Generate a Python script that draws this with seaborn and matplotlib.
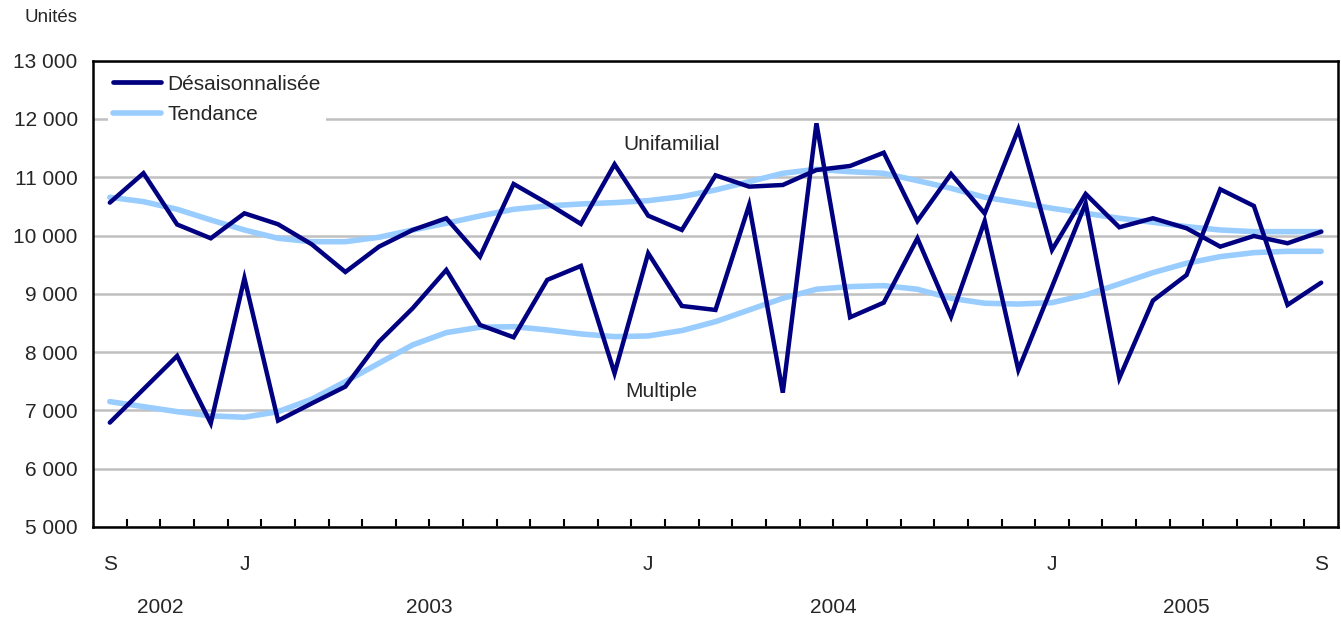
import numpy as np
import pandas as pd
import seaborn as sns
import matplotlib.pyplot as plt
import matplotlib.transforms as mtransforms
from matplotlib.lines import Line2D

# mois de septembre 2002 à septembre 2005
mois = list(range(37))

unifamilial = [10565, 11070, 10190, 9953, 10382, 10194, 9850, 9375, 9810, 10096,
               10297, 9638, 10885, 10554, 10199, 11223, 10341, 10096, 11034, 10839,
               10868, 11125, 11194, 11422, 10250, 11057, 10380, 11823, 9753, 10714,
               10142, 10297, 10125, 9810, 9993, 9868, 10067]
multiple = [6791, 7364, 7935, 6780, 9268, 6825, 7120, 7409, 8180, 8753,
            9410, 8467, 8255, 9240, 9479, 7638, 9696, 8792, 8724, 10525,
            7305, 11926, 8598, 8849, 9953, 8609, 10250, 7695, 9120, 10554,
            7553, 8884, 9324, 10794, 10508, 8810, 9192]
tendance_uni = [10657, 10582, 10451, 10268, 10096, 9953, 9895, 9895, 9971, 10096,
                10211, 10336, 10451, 10508, 10542, 10565, 10599, 10668, 10782, 10925,
                11068, 11137, 11096, 11068, 10942, 10811, 10657, 10565, 10468, 10382,
                10297, 10228, 10153, 10096, 10067, 10067, 10067]
tendance_mult = [7151, 7065, 6979, 6906, 6883, 6979, 7192, 7494, 7810, 8124,
                 8335, 8427, 8437, 8381, 8312, 8266, 8278, 8370, 8523, 8724,
                 8924, 9079, 9124, 9141, 9079, 8924, 8839, 8825, 8849, 8981,
                 9170, 9364, 9525, 9638, 9707, 9730, 9730]

mois_ticks = [0, 4, 16, 28, 36]
mois_labels = ["S", "J", "J", "J", "S"]
annees = ["2002", "2003", "2004", "2005"]
annees_pos = [1.5, 9.5, 21.5, 32.0]
y_ticks = list(range(5000, 13001, 1000))

df = pd.DataFrame({
    "mois": mois,
    "uni": unifamilial,
    "mult": multiple,
    "t_uni": tendance_uni,
    "t_mult": tendance_mult,
})

sns.set_style("white")
plt.rcParams['font.family'] = ['Liberation Sans', 'DejaVu Sans']

fonce = "#000080"
clair = "#99CCFF"

fig = plt.figure(figsize=(13.41, 6.2), dpi=100)
ax = fig.add_axes([93 / 1341, 1 - 527 / 620, 1245 / 1341, 466.3 / 620])

for col in ["t_uni", "t_mult"]:
    sns.lineplot(data=df, x="mois", y=col, ax=ax, color=clair, linewidth=4.0,
                 solid_capstyle="round", zorder=3)
for col in ["uni", "mult"]:
    sns.lineplot(data=df, x="mois", y=col, ax=ax, color=fonce, linewidth=3.2,
                 solid_capstyle="round", solid_joinstyle="miter", zorder=4)

ax.set_xlim(-0.5, 36.5)
ax.set_ylim(5000, 13000)
ax.set_yticks(y_ticks)
ax.set_yticklabels([f"{v:,}".replace(",", " ") for v in y_ticks], fontsize=15)
ax.yaxis.grid(True, color="#C0C0C0", linewidth=1.8)
ax.set_axisbelow(True)
ax.tick_params(axis="y", length=0, pad=11)

ax.set_xticks(mois_ticks)
ax.set_xticklabels(mois_labels, fontsize=15)
ax.set_xticks(np.arange(0.5, 36, 1), minor=True)
ax.tick_params(axis="x", which="major", length=0, pad=20)
ax.tick_params(axis="x", which="minor", direction="in", length=6, width=1.5,
               color="black", bottom=True)
ax.set_xlabel("")
ax.set_ylabel("")

for s in ax.spines.values():
    s.set_color("black")
    s.set_linewidth(1.8)
    s.set_visible(True)

trans = mtransforms.blended_transform_factory(ax.transData, ax.transAxes)
for a, p in zip(annees, annees_pos):
    ax.text(p, -0.172, a, transform=trans, ha="center", va="center", fontsize=15)

ax.text(16.7, 11560, "Unifamilial", ha="center", va="center", fontsize=15)
ax.text(16.4, 7330, "Multiple", ha="center", va="center", fontsize=15)

fig.text(51 / 1341, 1 - 18 / 620, "Unités", ha="center", va="center", fontsize=13.5)

handles = [Line2D([0], [0], color=fonce, linewidth=3.4, solid_capstyle="round"),
           Line2D([0], [0], color=clair, linewidth=4.0, solid_capstyle="round")]
leg = ax.legend(handles, ["Désaisonnalisée", "Tendance"], loc="upper left",
                bbox_to_anchor=(0.012, 0.981), fontsize=15, frameon=True,
                facecolor="white", edgecolor="none", framealpha=1,
                handlelength=2.3, handletextpad=0.3, labelspacing=0.55,
                borderpad=0.25, borderaxespad=0)
leg.set_zorder(5)

fig.savefig("out.png", dpi=100)
